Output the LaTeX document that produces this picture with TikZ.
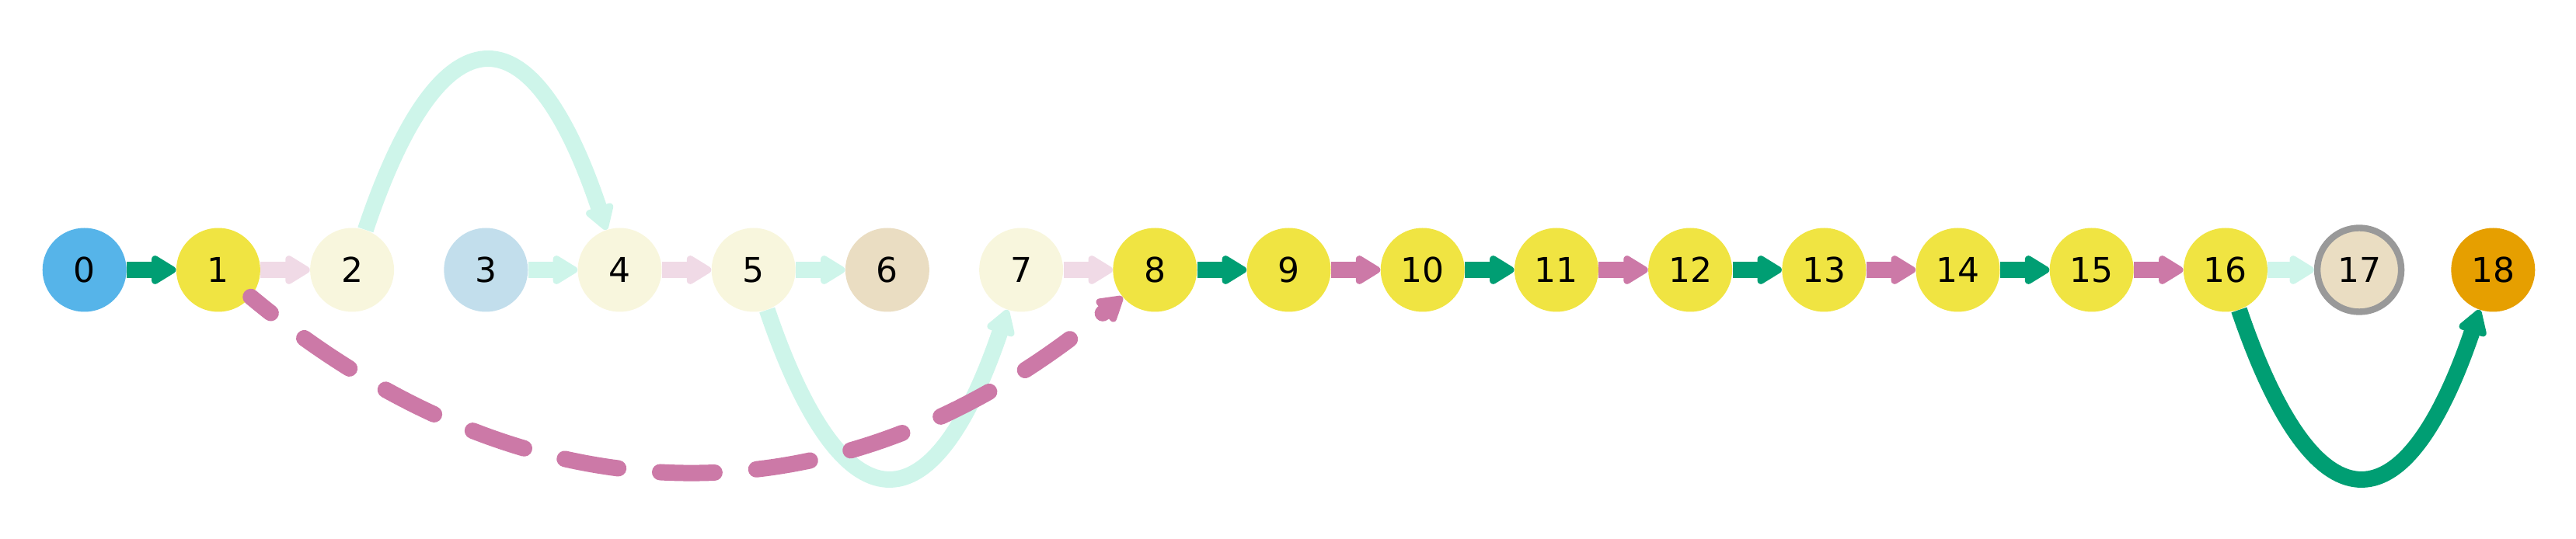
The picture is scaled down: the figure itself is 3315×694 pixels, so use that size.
\documentclass[tikz,border=0pt]{standalone}
\usepackage{fontspec}
\setmainfont{DejaVu Sans}
\usetikzlibrary{arrows.meta}
\definecolor{cGreen}{HTML}{009E73}
\definecolor{cPink}{HTML}{CC79A7}
\definecolor{cMint}{HTML}{CEF5EA}
\definecolor{cLPink}{HTML}{F0DAE6}
\definecolor{cYellow}{HTML}{F0E442}
\definecolor{cLYellow}{HTML}{F8F6DD}
\definecolor{cBlue}{HTML}{56B4E9}
\definecolor{cLBlue}{HTML}{C2DEEC}
\definecolor{cBeige}{HTML}{EADDC2}
\definecolor{cOrange}{HTML}{E69F00}
\definecolor{cGray}{HTML}{999999}
\tikzset{
  vtx/.style={circle, minimum size=54pt, inner sep=0pt, font=\fontsize{22}{26}\selectfont},
  conn/.style={line width=10.5pt, -{Triangle[length=18pt, width=20.5pt, round, line width=5pt]}},
  eGreen/.style={conn, draw=cGreen},
  ePink/.style={conn, draw=cPink},
  eMint/.style={conn, draw=cMint},
  eLPink/.style={conn, draw=cLPink},
  eDash/.style={conn, draw=cPink, line cap=round, dash pattern=on 35pt off 27pt, dash phase=18.5pt},
}
\begin{document}
\begin{tikzpicture}[x=0.5pt, y=-0.5pt]
\useasboundingbox (0,0) rectangle (3315,694);
\node[vtx, fill=cBlue]    (n0)  at (108.7,347.5)  {0};
\node[vtx, fill=cYellow]  (n1)  at (280.9,347.5)  {1};
\node[vtx, fill=cLYellow] (n2)  at (453.1,347.5)  {2};
\node[vtx, fill=cLBlue]   (n3)  at (625.3,347.5)  {3};
\node[vtx, fill=cLYellow] (n4)  at (797.5,347.5)  {4};
\node[vtx, fill=cLYellow] (n5)  at (969.7,347.5)  {5};
\node[vtx, fill=cBeige]   (n6)  at (1141.9,347.5) {6};
\node[vtx, fill=cLYellow] (n7)  at (1314.1,347.5) {7};
\node[vtx, fill=cYellow]  (n8)  at (1486.3,347.5) {8};
\node[vtx, fill=cYellow]  (n9)  at (1658.5,347.5) {9};
\node[vtx, fill=cYellow]  (n10) at (1830.7,347.5) {10};
\node[vtx, fill=cYellow]  (n11) at (2002.9,347.5) {11};
\node[vtx, fill=cYellow]  (n12) at (2175.1,347.5) {12};
\node[vtx, fill=cYellow]  (n13) at (2347.3,347.5) {13};
\node[vtx, fill=cYellow]  (n14) at (2519.5,347.5) {14};
\node[vtx, fill=cYellow]  (n15) at (2691.7,347.5) {15};
\node[vtx, fill=cYellow]  (n16) at (2863.9,347.5) {16};
\node[vtx, fill=cBeige, draw=cGray, line width=4.2pt] (n17) at (3036.1,347.5) {17};
\node[vtx, fill=cOrange]  (n18) at (3208.3,347.5) {18};

\draw[eGreen] (n0) -- (n1);
\draw[eLPink] (n1) -- (n2);
\draw[eMint] (n3) -- (n4);
\draw[eLPink] (n4) -- (n5);
\draw[eMint] (n5) -- (n6);
\draw[eLPink] (n7) -- (n8);
\draw[eGreen] (n8) -- (n9);
\draw[ePink] (n9) -- (n10);
\draw[eGreen] (n10) -- (n11);
\draw[ePink] (n11) -- (n12);
\draw[eGreen] (n12) -- (n13);
\draw[ePink] (n13) -- (n14);
\draw[eGreen] (n14) -- (n15);
\draw[ePink] (n15) -- (n16);
\draw[eMint] (n16) -- (n17);

\draw[eMint] (n2) .. controls (567.2,6.8) and (683.4,6.8) .. (n4);
\draw[eMint] (n5) .. controls (1084.5,685.5) and (1199.3,685.5) .. (n7);
\draw[eGreen] (n16) .. controls (2978.7,685.5) and (3093.5,685.5) .. (n18);
\draw[eDash] (n1) .. controls (682.7,681.5) and (1084.5,681.5) .. (n8);
\end{tikzpicture}
\end{document}
